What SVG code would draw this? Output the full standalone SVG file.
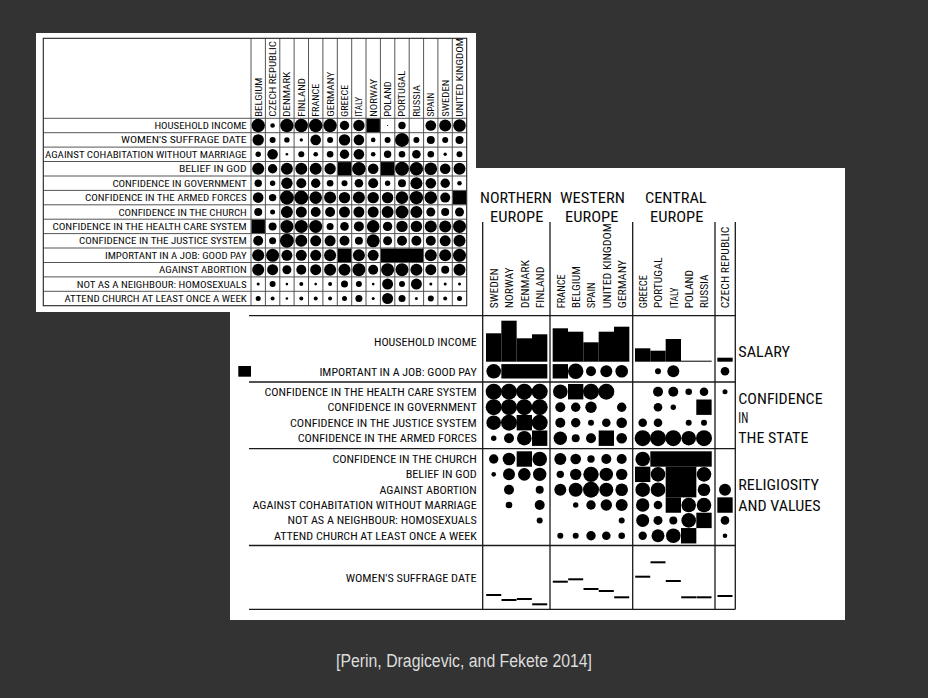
<svg xmlns="http://www.w3.org/2000/svg" width="928" height="698" viewBox="0 0 928 698">
<style>
.t{font-family:"Liberation Sans Narrow","Roboto Condensed","DejaVu Sans Condensed","Liberation Sans",sans-serif;fill:#0a0a0a;}
.ls{font-size:9.5px;text-anchor:end;}
.lh{font-size:9.5px;}
.rs{font-size:11px;text-anchor:end;}
.rh{font-size:11.5px;}
.gh{font-size:15.5px;text-anchor:middle;}
.sl{font-size:15px;}
.d circle,.d rect{fill:#000;}
.lg{fill:none;stroke:#555;stroke-width:1;}
.lb{fill:none;stroke:#222;stroke-width:1.1;}
.rl{fill:none;stroke:#1a1a1a;stroke-width:1.3;}
.cap{font-family:"Liberation Sans",Arial,sans-serif;font-size:18px;fill:#ddd;text-anchor:middle;}
</style>
<rect x="0" y="0" width="928" height="698" fill="#333"/>

<!-- RIGHT PANEL -->
<g id="right-panel">
<rect x="230" y="168" width="615" height="452" fill="#fff"/>
<g id="right-grid" class="rl">
<path d="M482.7 222V609.3M550 222V609.3M632.7 222V609.3M715 222V609.3M735.3 222V609.3"/>
<path d="M249 315.7H735.3M249 382H735.3M249 448.7H735.3M249 545.5H735.3M249 609.3H735.3"/>
</g>
<g id="right-group-headings" class="t gh">
<text x="516" y="203.3" textLength="72" lengthAdjust="spacingAndGlyphs">NORTHERN</text>
<text x="516.7" y="221.7" textLength="53.3" lengthAdjust="spacingAndGlyphs">EUROPE</text>
<text x="592.5" y="203.3" textLength="65" lengthAdjust="spacingAndGlyphs">WESTERN</text>
<text x="591.7" y="221.7" textLength="53.3" lengthAdjust="spacingAndGlyphs">EUROPE</text>
<text x="675.8" y="203.3" textLength="61.7" lengthAdjust="spacingAndGlyphs">CENTRAL</text>
<text x="676.7" y="221.7" textLength="53.3" lengthAdjust="spacingAndGlyphs">EUROPE</text>
</g>
<g id="right-column-headers" class="t rh">
<text transform="translate(497.9 308.3) rotate(-90)" textLength="40" lengthAdjust="spacingAndGlyphs">SWEDEN</text>
<text transform="translate(513.2 308.3) rotate(-90)" textLength="41" lengthAdjust="spacingAndGlyphs">NORWAY</text>
<text transform="translate(528.5 308.3) rotate(-90)" textLength="48.3" lengthAdjust="spacingAndGlyphs">DENMARK</text>
<text transform="translate(543.9 308.3) rotate(-90)" textLength="41.7" lengthAdjust="spacingAndGlyphs">FINLAND</text>
<text transform="translate(564.5 308.3) rotate(-90)" textLength="34" lengthAdjust="spacingAndGlyphs">FRANCE</text>
<text transform="translate(579.9 308.3) rotate(-90)" textLength="42.3" lengthAdjust="spacingAndGlyphs">BELGIUM</text>
<text transform="translate(595.2 308.3) rotate(-90)" textLength="26" lengthAdjust="spacingAndGlyphs">SPAIN</text>
<text transform="translate(610.5 308.3) rotate(-90)" textLength="85" lengthAdjust="spacingAndGlyphs">UNITED KINGDOM</text>
<text transform="translate(625.9 308.3) rotate(-90)" textLength="48.3" lengthAdjust="spacingAndGlyphs">GERMANY</text>
<text transform="translate(646.9 308.3) rotate(-90)" textLength="33.3" lengthAdjust="spacingAndGlyphs">GREECE</text>
<text transform="translate(662.2 308.3) rotate(-90)" textLength="50.7" lengthAdjust="spacingAndGlyphs">PORTUGAL</text>
<text transform="translate(677.5 308.3) rotate(-90)" textLength="20.7" lengthAdjust="spacingAndGlyphs">ITALY</text>
<text transform="translate(692.9 308.3) rotate(-90)" textLength="38.3" lengthAdjust="spacingAndGlyphs">POLAND</text>
<text transform="translate(708.2 308.3) rotate(-90)" textLength="34" lengthAdjust="spacingAndGlyphs">RUSSIA</text>
<text transform="translate(729.2 308.3) rotate(-90)" textLength="81.7" lengthAdjust="spacingAndGlyphs">CZECH REPUBLIC</text>
</g>
<g id="right-row-labels" class="t rs">
<text x="476.7" y="345.7" textLength="102.7" lengthAdjust="spacingAndGlyphs">HOUSEHOLD INCOME</text>
<text x="476.7" y="376" textLength="157.3" lengthAdjust="spacingAndGlyphs">IMPORTANT IN A JOB: GOOD PAY</text>
<text x="476.7" y="395.7" textLength="212.3" lengthAdjust="spacingAndGlyphs">CONFIDENCE IN THE HEALTH CARE SYSTEM</text>
<text x="476.7" y="411.2" textLength="149.3" lengthAdjust="spacingAndGlyphs">CONFIDENCE IN GOVERNMENT</text>
<text x="476.7" y="426.7" textLength="186.7" lengthAdjust="spacingAndGlyphs">CONFIDENCE IN THE JUSTICE SYSTEM</text>
<text x="476.7" y="442.2" textLength="179" lengthAdjust="spacingAndGlyphs">CONFIDENCE IN THE ARMED FORCES</text>
<text x="476.7" y="463" textLength="144.3" lengthAdjust="spacingAndGlyphs">CONFIDENCE IN THE CHURCH</text>
<text x="476.7" y="478.3" textLength="71" lengthAdjust="spacingAndGlyphs">BELIEF IN GOD</text>
<text x="476.7" y="493.7" textLength="97.3" lengthAdjust="spacingAndGlyphs">AGAINST ABORTION</text>
<text x="476.7" y="509" textLength="224.3" lengthAdjust="spacingAndGlyphs">AGAINST COHABITATION WITHOUT MARRIAGE</text>
<text x="476.7" y="524.4" textLength="189.3" lengthAdjust="spacingAndGlyphs">NOT AS A NEIGHBOUR: HOMOSEXUALS</text>
<text x="476.7" y="539.7" textLength="202.7" lengthAdjust="spacingAndGlyphs">ATTEND CHURCH AT LEAST ONCE A WEEK</text>
<text x="476.7" y="581.7" textLength="131" lengthAdjust="spacingAndGlyphs">WOMEN'S SUFFRAGE DATE</text>
</g>
<g id="right-side-labels" class="t sl">
<text x="738.3" y="357.3" textLength="51.7" lengthAdjust="spacingAndGlyphs">SALARY</text>
<text x="738.3" y="404" textLength="84.3" lengthAdjust="spacingAndGlyphs">CONFIDENCE</text>
<text x="738.3" y="423.3" textLength="10" lengthAdjust="spacingAndGlyphs">IN</text>
<text x="738.3" y="443.3" textLength="70" lengthAdjust="spacingAndGlyphs">THE STATE</text>
<text x="738.3" y="490" textLength="80.7" lengthAdjust="spacingAndGlyphs">RELIGIOSITY</text>
<text x="738.3" y="510.7" textLength="82.3" lengthAdjust="spacingAndGlyphs">AND VALUES</text>
</g>
<rect id="legend-marker" x="238.3" y="366" width="12.7" height="10.7" fill="#000"/>
<g id="r-household-income" class="d">
<rect x="486" y="333.3" width="15.33" height="28.4"/>
<rect x="501.33" y="320.7" width="15.33" height="41"/>
<rect x="516.67" y="338.3" width="15.33" height="23.4"/>
<rect x="532" y="334.3" width="15.33" height="27.4"/>
<rect x="552.67" y="328.3" width="15.33" height="33.4"/>
<rect x="568" y="331.7" width="15.33" height="30"/>
<rect x="583.33" y="342.3" width="15.33" height="19.4"/>
<rect x="598.67" y="331.7" width="15.33" height="30"/>
<rect x="614" y="326.7" width="15.33" height="35"/>
<rect x="635" y="348.3" width="15.33" height="13.4"/>
<rect x="650.33" y="350.7" width="15.33" height="11"/>
<rect x="665.67" y="339" width="15.33" height="22.7"/>
<rect x="681" y="360.7" width="30.67" height="1"/>
<rect x="717.33" y="357.7" width="15.33" height="4"/>
</g>
<g id="r-good-pay" class="d">
<circle cx="493.7" cy="371.3" r="7.3"/>
<rect x="501.33" y="364.1" width="46" height="14.4"/>
<rect x="552.67" y="364.1" width="15.33" height="14.4"/>
<circle cx="575.7" cy="371.3" r="7.7"/>
<circle cx="591" cy="371.3" r="5"/>
<circle cx="606.3" cy="371.3" r="6"/>
<circle cx="621.7" cy="371.3" r="6.3"/>
<circle cx="658" cy="371.3" r="3"/>
<circle cx="673.3" cy="371.3" r="6"/>
<circle cx="725" cy="371.3" r="4.3"/>
</g>
<g id="r-health-care" class="d">
<circle cx="493.7" cy="391.7" r="8"/><circle cx="509" cy="391.7" r="8"/><circle cx="524.3" cy="391.7" r="8"/><circle cx="539.7" cy="391.7" r="8"/>
<circle cx="560.3" cy="391.7" r="7.3"/><rect x="568" y="384" width="15.33" height="15.4"/><circle cx="591" cy="391.7" r="8"/><circle cx="606.3" cy="391.7" r="8"/>
<circle cx="658" cy="391.7" r="5"/><circle cx="673.3" cy="391.7" r="5"/><circle cx="688.7" cy="391.7" r="3.3"/><circle cx="704" cy="391.7" r="4.3"/>
<circle cx="725" cy="391.7" r="2.5"/>
</g>
<g id="r-government" class="d">
<circle cx="493.7" cy="407.2" r="8"/><circle cx="509" cy="407.2" r="8"/><circle cx="524.3" cy="407.2" r="8"/><circle cx="539.7" cy="407.2" r="8"/>
<circle cx="560.3" cy="407.2" r="5"/><circle cx="575.7" cy="407.2" r="4.7"/><circle cx="591" cy="407.2" r="5.7"/><circle cx="621.7" cy="407.2" r="4.7"/>
<circle cx="658" cy="407.2" r="4.3"/><circle cx="673.3" cy="407.2" r="2.7"/><rect x="696.3" y="399.5" width="15.33" height="15.4"/>
</g>
<g id="r-justice" class="d">
<circle cx="493.7" cy="422.7" r="7.3"/><circle cx="509" cy="422.7" r="8"/><rect x="516.67" y="415" width="15.33" height="15.4"/><circle cx="539.7" cy="422.7" r="8"/>
<circle cx="560.3" cy="422.7" r="5"/><circle cx="575.7" cy="422.7" r="4.7"/><circle cx="591" cy="422.7" r="3"/><circle cx="606.3" cy="422.7" r="4.3"/><circle cx="621.7" cy="422.7" r="5.3"/>
<circle cx="642.7" cy="422.7" r="4.3"/><circle cx="658" cy="422.7" r="4.3"/><circle cx="688.7" cy="422.7" r="3"/><circle cx="704" cy="422.7" r="3"/>
</g>
<g id="r-armed-forces" class="d">
<circle cx="493.7" cy="438.2" r="2.7"/><circle cx="509" cy="438.2" r="5"/><circle cx="524.3" cy="438.2" r="7.3"/><rect x="532" y="430.5" width="15.33" height="15.4"/>
<circle cx="560.3" cy="438.2" r="6.7"/><circle cx="575.7" cy="438.2" r="4"/><circle cx="591" cy="438.2" r="5"/><rect x="598.67" y="430.5" width="15.33" height="15.4"/><circle cx="621.7" cy="438.2" r="5.3"/>
<circle cx="642.7" cy="438.2" r="8"/><circle cx="658" cy="438.2" r="8"/><circle cx="673.3" cy="438.2" r="8"/><circle cx="688.7" cy="438.2" r="7.3"/><circle cx="704" cy="438.2" r="8"/>
</g>
<g id="r-church" class="d">
<circle cx="493.7" cy="459" r="4.7"/><circle cx="509" cy="459" r="6.3"/><rect x="516.67" y="451.3" width="15.33" height="15.4"/><circle cx="539.7" cy="459" r="7.3"/>
<circle cx="560.3" cy="459" r="6"/><circle cx="575.7" cy="459" r="5.3"/><circle cx="591" cy="459" r="3.7"/><circle cx="606.3" cy="459" r="5"/><circle cx="621.7" cy="459" r="5"/>
<circle cx="642.7" cy="459" r="7.3"/><rect x="650.33" y="451.3" width="61.4" height="15.4"/>
</g>
<g id="r-belief" class="d">
<circle cx="493.7" cy="474.35" r="2.3"/><circle cx="509" cy="474.35" r="6"/><circle cx="524.3" cy="474.35" r="6.3"/><circle cx="539.7" cy="474.35" r="6.7"/>
<circle cx="560.3" cy="474.35" r="3.7"/><circle cx="575.7" cy="474.35" r="5.7"/><circle cx="591" cy="474.35" r="7.7"/><circle cx="606.3" cy="474.35" r="6.7"/><circle cx="621.7" cy="474.35" r="5.7"/>
<rect x="635" y="466.65" width="15.33" height="15.4"/><circle cx="658" cy="474.35" r="7.3"/><rect x="665.67" y="466.65" width="30.67" height="15.4"/><circle cx="704" cy="474.35" r="7.3"/>
</g>
<g id="r-abortion" class="d">
<circle cx="509" cy="489.7" r="5"/><circle cx="539.7" cy="489.7" r="4"/>
<circle cx="560.3" cy="489.7" r="6"/><circle cx="575.7" cy="489.7" r="7"/><circle cx="591" cy="489.7" r="8"/><circle cx="606.3" cy="489.7" r="7"/><circle cx="621.7" cy="489.7" r="6.3"/>
<circle cx="642.7" cy="489.7" r="7.3"/><circle cx="658" cy="489.7" r="7.3"/><rect x="665.67" y="482" width="30.67" height="15.4"/><circle cx="704" cy="489.7" r="6.3"/>
<circle cx="725" cy="489.7" r="6"/>
</g>
<g id="r-cohabitation" class="d">
<circle cx="509" cy="505.05" r="3.3"/><circle cx="539.7" cy="505.05" r="5"/>
<circle cx="575.7" cy="505.05" r="2.7"/><circle cx="591" cy="505.05" r="4.7"/><circle cx="606.3" cy="505.05" r="5.7"/><circle cx="621.7" cy="505.05" r="6"/>
<circle cx="642.7" cy="505.05" r="6.7"/><circle cx="658" cy="505.05" r="4.3"/><rect x="665.67" y="497.35" width="15.33" height="15.4"/><circle cx="688.7" cy="505.05" r="7.3"/><circle cx="704" cy="505.05" r="7.3"/>
<rect x="717.33" y="497.35" width="15.33" height="15.4"/>
</g>
<g id="r-homosexuals" class="d">
<circle cx="539.7" cy="520.4" r="3"/><circle cx="621.7" cy="520.4" r="3"/>
<circle cx="642.7" cy="520.4" r="6.5"/><circle cx="658" cy="520.4" r="4.5"/><circle cx="673.3" cy="520.4" r="4"/><circle cx="688.7" cy="520.4" r="7.3"/><rect x="696.33" y="512.7" width="15.33" height="15.4"/>
<circle cx="725" cy="520.4" r="4.3"/>
</g>
<g id="r-attend-church" class="d">
<circle cx="560.3" cy="535.75" r="3"/><circle cx="575.7" cy="535.75" r="3"/><circle cx="591" cy="535.75" r="4.7"/><circle cx="606.3" cy="535.75" r="4.3"/><circle cx="621.7" cy="535.75" r="3.3"/>
<circle cx="642.7" cy="535.75" r="4.2"/><circle cx="658" cy="535.75" r="6.5"/><circle cx="673.3" cy="535.75" r="7.3"/><rect x="681" y="528.05" width="15.33" height="15.4"/>
<circle cx="725" cy="535.75" r="2.3"/>
</g>
<g id="r-suffrage" class="d">
<rect x="486.2" y="594" width="15" height="2"/>
<rect x="501.5" y="599" width="15" height="2"/>
<rect x="516.8" y="598" width="15" height="2"/>
<rect x="532.2" y="603.3" width="15" height="2"/>
<rect x="552.8" y="580.7" width="15" height="2"/>
<rect x="568.2" y="578.3" width="15" height="2"/>
<rect x="583.5" y="588" width="15" height="2"/>
<rect x="598.8" y="590" width="15" height="2"/>
<rect x="614.2" y="596.3" width="15" height="2"/>
<rect x="635.2" y="575.7" width="15" height="2"/>
<rect x="650.5" y="561.3" width="15" height="2"/>
<rect x="665.8" y="580" width="15" height="2"/>
<rect x="681.2" y="596.3" width="15" height="2"/>
<rect x="696.5" y="596.3" width="15" height="2"/>
<rect x="717.5" y="595" width="15" height="2"/>
</g>
</g>

<!-- LEFT PANEL -->
<g id="left-panel">
<rect x="36" y="33" width="440" height="279" fill="#fff"/>
<path class="lg" d="M251 38.3V305.7M265.4 38.3V305.7M279.8 38.3V305.7M294.1 38.3V305.7M308.5 38.3V305.7M322.9 38.3V305.7M337.3 38.3V305.7M351.7 38.3V305.7M366 38.3V305.7M380.4 38.3V305.7M394.8 38.3V305.7M409.2 38.3V305.7M423.6 38.3V305.7M437.9 38.3V305.7M452.3 38.3V305.7"/>
<path class="lg" d="M43.3 118.3H466.7M43.3 132.7H466.7M43.3 147.1H466.7M43.3 161.5H466.7M43.3 176H466.7M43.3 190.4H466.7M43.3 204.8H466.7M43.3 219.2H466.7M43.3 233.6H466.7M43.3 248H466.7M43.3 262.5H466.7M43.3 276.9H466.7M43.3 291.3H466.7"/>
<rect class="lb" x="43.3" y="38.3" width="423.4" height="267.4"/>
<g id="left-column-headers" class="t lh">
<text transform="translate(261.6 116.8) rotate(-90)" textLength="39.3" lengthAdjust="spacingAndGlyphs">BELGIUM</text>
<text transform="translate(276 116.8) rotate(-90)" textLength="75.7" lengthAdjust="spacingAndGlyphs">CZECH REPUBLIC</text>
<text transform="translate(290.3 116.8) rotate(-90)" textLength="45" lengthAdjust="spacingAndGlyphs">DENMARK</text>
<text transform="translate(304.7 116.8) rotate(-90)" textLength="38.8" lengthAdjust="spacingAndGlyphs">FINLAND</text>
<text transform="translate(319.1 116.8) rotate(-90)" textLength="33" lengthAdjust="spacingAndGlyphs">FRANCE</text>
<text transform="translate(333.5 116.8) rotate(-90)" textLength="45" lengthAdjust="spacingAndGlyphs">GERMANY</text>
<text transform="translate(347.9 116.8) rotate(-90)" textLength="32" lengthAdjust="spacingAndGlyphs">GREECE</text>
<text transform="translate(362.3 116.8) rotate(-90)" textLength="20" lengthAdjust="spacingAndGlyphs">ITALY</text>
<text transform="translate(376.6 116.8) rotate(-90)" textLength="38" lengthAdjust="spacingAndGlyphs">NORWAY</text>
<text transform="translate(391 116.8) rotate(-90)" textLength="35.6" lengthAdjust="spacingAndGlyphs">POLAND</text>
<text transform="translate(405.4 116.8) rotate(-90)" textLength="46" lengthAdjust="spacingAndGlyphs">PORTUGAL</text>
<text transform="translate(419.8 116.8) rotate(-90)" textLength="31.6" lengthAdjust="spacingAndGlyphs">RUSSIA</text>
<text transform="translate(434.2 116.8) rotate(-90)" textLength="24" lengthAdjust="spacingAndGlyphs">SPAIN</text>
<text transform="translate(448.6 116.8) rotate(-90)" textLength="37.2" lengthAdjust="spacingAndGlyphs">SWEDEN</text>
<text transform="translate(462.9 116.8) rotate(-90)" textLength="79" lengthAdjust="spacingAndGlyphs">UNITED KINGDOM</text>
</g>
<g id="left-row-labels" class="t ls">
<text x="246.7" y="129" textLength="92.3" lengthAdjust="spacingAndGlyphs">HOUSEHOLD INCOME</text>
<text x="246.7" y="143.4" textLength="125.7" lengthAdjust="spacingAndGlyphs">WOMEN'S SUFFRAGE DATE</text>
<text x="246.7" y="157.8" textLength="201.7" lengthAdjust="spacingAndGlyphs">AGAINST COHABITATION WITHOUT MARRIAGE</text>
<text x="246.7" y="172.3" textLength="67.7" lengthAdjust="spacingAndGlyphs">BELIEF IN GOD</text>
<text x="246.7" y="186.7" textLength="134.3" lengthAdjust="spacingAndGlyphs">CONFIDENCE IN GOVERNMENT</text>
<text x="246.7" y="201.1" textLength="161.7" lengthAdjust="spacingAndGlyphs">CONFIDENCE IN THE ARMED FORCES</text>
<text x="246.7" y="215.5" textLength="128.3" lengthAdjust="spacingAndGlyphs">CONFIDENCE IN THE CHURCH</text>
<text x="246.7" y="229.9" textLength="194.3" lengthAdjust="spacingAndGlyphs">CONFIDENCE IN THE HEALTH CARE SYSTEM</text>
<text x="246.7" y="244.3" textLength="167.7" lengthAdjust="spacingAndGlyphs">CONFIDENCE IN THE JUSTICE SYSTEM</text>
<text x="246.7" y="258.8" textLength="141.7" lengthAdjust="spacingAndGlyphs">IMPORTANT IN A JOB: GOOD PAY</text>
<text x="246.7" y="273.2" textLength="87.7" lengthAdjust="spacingAndGlyphs">AGAINST ABORTION</text>
<text x="246.7" y="287.6" textLength="170" lengthAdjust="spacingAndGlyphs">NOT AS A NEIGHBOUR: HOMOSEXUALS</text>
<text x="246.7" y="302" textLength="182.3" lengthAdjust="spacingAndGlyphs">ATTEND CHURCH AT LEAST ONCE A WEEK</text>
</g>
<g id="l-household-income" class="d">
<circle cx="258.2" cy="125.5" r="6.7"/><circle cx="272.6" cy="125.5" r="2.3"/><circle cx="286.9" cy="125.5" r="6.7"/><circle cx="301.3" cy="125.5" r="6.7"/><circle cx="315.7" cy="125.5" r="6.7"/><circle cx="330.1" cy="125.5" r="6.7"/><circle cx="344.5" cy="125.5" r="4.7"/><circle cx="358.9" cy="125.5" r="5.7"/><rect x="366.5" y="118.8" width="13.4" height="13.4"/><circle cx="387.6" cy="125.5" r="0.6"/><circle cx="402" cy="125.5" r="3.7"/><circle cx="430.8" cy="125.5" r="5.3"/><circle cx="445.2" cy="125.5" r="6"/><circle cx="459.5" cy="125.5" r="6.3"/>
</g>
<g id="l-suffrage" class="d">
<circle cx="258.2" cy="139.9" r="5.7"/><circle cx="272.6" cy="139.9" r="3"/><circle cx="286.9" cy="139.9" r="2.7"/><circle cx="301.3" cy="139.9" r="1.7"/><circle cx="315.7" cy="139.9" r="5.3"/><circle cx="330.1" cy="139.9" r="3"/><circle cx="344.5" cy="139.9" r="5.7"/><circle cx="358.9" cy="139.9" r="5.3"/><circle cx="373.2" cy="139.9" r="2.3"/><circle cx="387.6" cy="139.9" r="3"/><circle cx="402" cy="139.9" r="7"/><circle cx="416.4" cy="139.9" r="3"/><circle cx="430.8" cy="139.9" r="4"/><circle cx="445.2" cy="139.9" r="3"/><circle cx="459.5" cy="139.9" r="4"/>
</g>
<g id="l-cohabitation" class="d">
<circle cx="258.2" cy="154.3" r="2.7"/><circle cx="272.6" cy="154.3" r="5.3"/><circle cx="286.9" cy="154.3" r="1.3"/><circle cx="301.3" cy="154.3" r="3"/><circle cx="315.7" cy="154.3" r="2.3"/><circle cx="330.1" cy="154.3" r="3.3"/><circle cx="344.5" cy="154.3" r="4.7"/><circle cx="358.9" cy="154.3" r="5.3"/><circle cx="373.2" cy="154.3" r="2.3"/><circle cx="387.6" cy="154.3" r="3.7"/><circle cx="402" cy="154.3" r="3.3"/><circle cx="416.4" cy="154.3" r="4.3"/><circle cx="430.8" cy="154.3" r="3.3"/><circle cx="445.2" cy="154.3" r="1.7"/><circle cx="459.5" cy="154.3" r="3"/>
</g>
<g id="l-belief" class="d">
<circle cx="258.2" cy="168.8" r="6"/><circle cx="272.6" cy="168.8" r="4.7"/><circle cx="286.9" cy="168.8" r="6"/><circle cx="301.3" cy="168.8" r="6"/><circle cx="315.7" cy="168.8" r="6"/><circle cx="330.1" cy="168.8" r="5.7"/><rect x="337.8" y="162.1" width="13.4" height="13.4"/><circle cx="358.9" cy="168.8" r="6.8"/><circle cx="373.2" cy="168.8" r="5.3"/><rect x="380.9" y="162.1" width="13.4" height="13.4"/><circle cx="402" cy="168.8" r="7"/><circle cx="416.4" cy="168.8" r="6.7"/><circle cx="430.8" cy="168.8" r="6.3"/><circle cx="445.2" cy="168.8" r="5.3"/><circle cx="459.5" cy="168.8" r="6"/>
</g>
<g id="l-government" class="d">
<circle cx="258.2" cy="183.2" r="3.7"/><circle cx="272.6" cy="183.2" r="2.7"/><circle cx="286.9" cy="183.2" r="5.7"/><circle cx="301.3" cy="183.2" r="5"/><circle cx="315.7" cy="183.2" r="4.7"/><circle cx="330.1" cy="183.2" r="3.3"/><circle cx="344.5" cy="183.2" r="3"/><circle cx="358.9" cy="183.2" r="4.3"/><circle cx="373.2" cy="183.2" r="5"/><circle cx="387.6" cy="183.2" r="2.7"/><circle cx="402" cy="183.2" r="4"/><circle cx="416.4" cy="183.2" r="6"/><circle cx="430.8" cy="183.2" r="5.3"/><circle cx="445.2" cy="183.2" r="4.7"/><circle cx="459.5" cy="183.2" r="2.3"/>
</g>
<g id="l-armed-forces" class="d">
<circle cx="258.2" cy="197.6" r="5.3"/><circle cx="272.6" cy="197.6" r="3.7"/><circle cx="286.9" cy="197.6" r="7"/><circle cx="301.3" cy="197.6" r="7"/><circle cx="315.7" cy="197.6" r="6.3"/><circle cx="330.1" cy="197.6" r="6"/><circle cx="344.5" cy="197.6" r="5.7"/><circle cx="358.9" cy="197.6" r="6"/><circle cx="373.2" cy="197.6" r="5.7"/><circle cx="387.6" cy="197.6" r="5.7"/><circle cx="402" cy="197.6" r="6.3"/><circle cx="416.4" cy="197.6" r="6.7"/><circle cx="430.8" cy="197.6" r="6.3"/><circle cx="445.2" cy="197.6" r="5"/><rect x="452.8" y="190.9" width="13.4" height="13.4"/>
</g>
<g id="l-church" class="d">
<circle cx="258.2" cy="212" r="4"/><circle cx="272.6" cy="212" r="2.5"/><circle cx="286.9" cy="212" r="6"/><circle cx="301.3" cy="212" r="5.5"/><circle cx="315.7" cy="212" r="5"/><circle cx="330.1" cy="212" r="5"/><circle cx="344.5" cy="212" r="5.5"/><circle cx="358.9" cy="212" r="5.5"/><circle cx="373.2" cy="212" r="5.5"/><circle cx="387.6" cy="212" r="6"/><circle cx="402" cy="212" r="6.5"/><circle cx="416.4" cy="212" r="6"/><circle cx="430.8" cy="212" r="4.5"/><circle cx="445.2" cy="212" r="4"/><circle cx="459.5" cy="212" r="4.5"/>
</g>
<g id="l-health-care" class="d">
<rect x="251.5" y="219.7" width="13.4" height="13.4"/><circle cx="272.6" cy="226.4" r="4"/><circle cx="286.9" cy="226.4" r="6.5"/><circle cx="301.3" cy="226.4" r="6.5"/><circle cx="315.7" cy="226.4" r="6.5"/><circle cx="330.1" cy="226.4" r="3.5"/><circle cx="344.5" cy="226.4" r="4.3"/><circle cx="358.9" cy="226.4" r="5"/><circle cx="373.2" cy="226.4" r="6.3"/><circle cx="387.6" cy="226.4" r="4.7"/><circle cx="402" cy="226.4" r="5.7"/><circle cx="416.4" cy="226.4" r="5.7"/><circle cx="430.8" cy="226.4" r="6"/><circle cx="445.2" cy="226.4" r="6"/><circle cx="459.5" cy="226.4" r="6.5"/>
</g>
<g id="l-justice" class="d">
<circle cx="258.2" cy="240.8" r="5"/><circle cx="272.6" cy="240.8" r="3.5"/><circle cx="286.9" cy="240.8" r="7"/><circle cx="301.3" cy="240.8" r="6"/><circle cx="315.7" cy="240.8" r="5.5"/><circle cx="330.1" cy="240.8" r="5.5"/><circle cx="344.5" cy="240.8" r="5"/><circle cx="358.9" cy="240.8" r="4"/><circle cx="373.2" cy="240.8" r="6.5"/><circle cx="387.6" cy="240.8" r="4.5"/><circle cx="402" cy="240.8" r="5"/><circle cx="416.4" cy="240.8" r="5"/><circle cx="430.8" cy="240.8" r="5"/><circle cx="445.2" cy="240.8" r="5.5"/><circle cx="459.5" cy="240.8" r="6"/>
</g>
<g id="l-good-pay" class="d">
<circle cx="258.2" cy="255.3" r="6"/><circle cx="272.6" cy="255.3" r="6.5"/><circle cx="286.9" cy="255.3" r="5.5"/><circle cx="301.3" cy="255.3" r="5.5"/><circle cx="315.7" cy="255.3" r="5.5"/><circle cx="330.1" cy="255.3" r="6"/><rect x="337.8" y="248.6" width="13.4" height="13.4"/><circle cx="358.9" cy="255.3" r="6"/><circle cx="373.2" cy="255.3" r="5.5"/><rect x="380.9" y="248.6" width="42.2" height="13.4"/><circle cx="430.8" cy="255.3" r="6"/><circle cx="445.2" cy="255.3" r="6"/><circle cx="459.5" cy="255.3" r="6.5"/>
</g>
<g id="l-abortion" class="d">
<circle cx="258.2" cy="269.7" r="6"/><circle cx="272.6" cy="269.7" r="5.5"/><circle cx="286.9" cy="269.7" r="4.5"/><circle cx="301.3" cy="269.7" r="5"/><circle cx="315.7" cy="269.7" r="5.5"/><circle cx="330.1" cy="269.7" r="6"/><circle cx="344.5" cy="269.7" r="6"/><circle cx="358.9" cy="269.7" r="6.5"/><circle cx="373.2" cy="269.7" r="5"/><circle cx="387.6" cy="269.7" r="6.5"/><circle cx="402" cy="269.7" r="6.5"/><circle cx="416.4" cy="269.7" r="6"/><circle cx="430.8" cy="269.7" r="5.5"/><circle cx="445.2" cy="269.7" r="4"/><circle cx="459.5" cy="269.7" r="6"/>
</g>
<g id="l-homosexuals" class="d">
<circle cx="258.2" cy="284.1" r="1.5"/><circle cx="272.6" cy="284.1" r="3"/><circle cx="286.9" cy="284.1" r="1.3"/><circle cx="301.3" cy="284.1" r="2"/><circle cx="315.7" cy="284.1" r="1.3"/><circle cx="330.1" cy="284.1" r="2"/><circle cx="344.5" cy="284.1" r="3.5"/><circle cx="358.9" cy="284.1" r="3"/><circle cx="373.2" cy="284.1" r="1.3"/><circle cx="387.6" cy="284.1" r="5.5"/><circle cx="402" cy="284.1" r="3"/><circle cx="416.4" cy="284.1" r="5.5"/><circle cx="430.8" cy="284.1" r="1.5"/><circle cx="445.2" cy="284.1" r="1.5"/><circle cx="459.5" cy="284.1" r="1.5"/>
</g>
<g id="l-attend-church" class="d">
<circle cx="258.2" cy="298.5" r="2.5"/><circle cx="272.6" cy="298.5" r="2"/><circle cx="286.9" cy="298.5" r="1.3"/><circle cx="301.3" cy="298.5" r="2"/><circle cx="315.7" cy="298.5" r="2"/><circle cx="330.1" cy="298.5" r="2"/><circle cx="344.5" cy="298.5" r="2.5"/><circle cx="358.9" cy="298.5" r="3.5"/><circle cx="373.2" cy="298.5" r="1.5"/><circle cx="387.6" cy="298.5" r="5.5"/><circle cx="402" cy="298.5" r="3.5"/><circle cx="416.4" cy="298.5" r="1.5"/><circle cx="430.8" cy="298.5" r="3"/><circle cx="445.2" cy="298.5" r="2"/><circle cx="459.5" cy="298.5" r="2.5"/>
</g>
</g>

<text id="caption" class="cap" x="464" y="667" textLength="256" lengthAdjust="spacingAndGlyphs">[Perin, Dragicevic, and Fekete 2014]</text>
</svg>
